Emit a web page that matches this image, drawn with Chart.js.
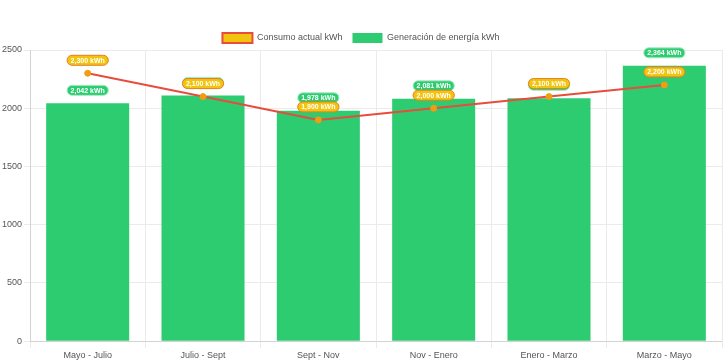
<!DOCTYPE html>
<html>
<head>
<meta charset="utf-8">
<script src="https://cdn.jsdelivr.net/npm/chart.js@4"></script>
<style>
  html, body { margin: 0; padding: 0; background: #fff; }
  #wrap { width: 728px; height: 363px; }
</style>
</head>
<body>
<div id="wrap"><canvas id="grafico"></canvas></div>
<script>
const periodos = ['Mayo - Julio', 'Julio - Sept', 'Sept - Nov', 'Nov - Enero', 'Enero - Marzo', 'Marzo - Mayo'];
const consumoActual = [2300, 2100, 1900, 2000, 2100, 2200];
const generacion = [2042, 2110, 1978, 2081, 2085, 2364];

// etiquetas tipo "pill" encima de cada punto / barra
const etiquetasPlugin = {
    id: 'etiquetas',
    afterDatasetsDraw(chart) {
        const ctx = chart.ctx;
        ctx.save();
        ctx.font = 'bold 7px Arial, sans-serif';
        ctx.textAlign = 'center';
        ctx.textBaseline = 'middle';
        // barras primero, luego la linea encima
        [1, 0].forEach(i => {
            const ds = chart.data.datasets[i];
            const meta = chart.getDatasetMeta(i);
            meta.data.forEach((el, j) => {
                const txt = ds.data[j].toLocaleString('en-US') + ' kWh';
                const w = ctx.measureText(txt).width + 7;
                const h = 10;
                const x = el.x;
                const y = el.y - 13;
                ctx.beginPath();
                ctx.roundRect(x - w / 2, y - h / 2, w, h, 5);
                ctx.fillStyle = ds.etiquetaFondo;
                ctx.fill();
                ctx.lineWidth = 1;
                ctx.strokeStyle = ds.etiquetaBorde;
                ctx.stroke();
                ctx.fillStyle = '#fff';
                ctx.fillText(txt, x, y + 0.5);
            });
        });
        ctx.restore();
    }
};

// un poco menos de espacio bajo la leyenda
const leyendaCompacta = {
    id: 'leyendaCompacta',
    beforeInit(chart) {
        const fitOriginal = chart.legend.fit;
        chart.legend.fit = function () {
            fitOriginal.call(this);
            this.height -= 3;
        };
    }
};

new Chart(document.getElementById('grafico'), {
    type: 'bar',
    data: {
        labels: periodos,
        datasets: [
            {
                type: 'line',
                label: 'Consumo actual kWh',
                data: consumoActual,
                borderColor: '#e74c3c',
                backgroundColor: '#f1c40f',
                borderWidth: 2,
                pointRadius: 3,
                pointBackgroundColor: '#f39c12',
                pointBorderColor: '#f39c12',
                pointBorderWidth: 1,
                tension: 0,
                etiquetaFondo: '#f1c40f',
                etiquetaBorde: '#e67e22'
            },
            {
                type: 'bar',
                label: 'Generación de energía kWh',
                data: generacion,
                backgroundColor: '#2ecc71',
                borderColor: '#2ecc71',
                etiquetaFondo: '#2ecc71',
                etiquetaBorde: '#a9ebc4'
            }
        ]
    },
    options: {
        responsive: true,
        maintainAspectRatio: false,
        animation: false,
        layout: { padding: { top: 23, right: 6 } },
        plugins: {
            legend: {
                position: 'top',
                labels: {
                    boxWidth: 30,
                    boxHeight: 10,
                    padding: 10,
                    font: { size: 9 },
                    color: '#555'
                }
            },
            tooltip: { enabled: false }
        },
        scales: {
            x: {
                grid: { color: '#ebebeb', tickLength: 7 },
                ticks: { font: { size: 9 }, color: '#555', padding: 2 }
            },
            y: {
                min: 0,
                max: 2500,
                ticks: {
                    stepSize: 500,
                    font: { size: 9 },
                    color: '#555',
                    padding: 2,
                    callback: v => String(v)
                },
                grid: { color: '#ebebeb', tickLength: 6 }
            }
        }
    },
    plugins: [etiquetasPlugin, leyendaCompacta]
});
</script>
</body>
</html>
